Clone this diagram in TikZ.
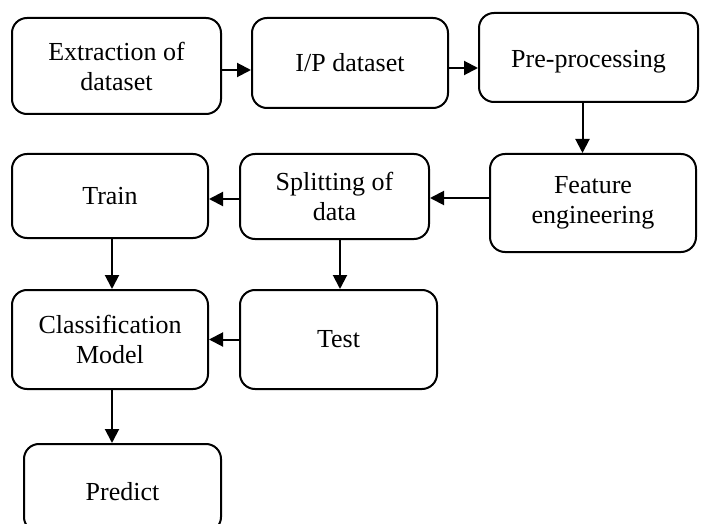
\documentclass[tikz,border=0pt]{standalone}
\usepackage{fontspec}
\setmainfont{Liberation Serif}
\usetikzlibrary{arrows.meta}
\begin{document}
\begin{tikzpicture}[x=1pt,y=1pt,
  box/.style={draw, line width=2pt, rounded corners=15pt, align=center,
    font=\fontsize{26}{30}\selectfont, inner sep=0pt},
  arr/.style={line width=2pt, -{Triangle[length=14pt,width=14pt]}}]
\useasboundingbox (0,0) rectangle (702,-524);
\node[box, minimum width=209pt, minimum height=96pt] (b1) at (116.5,-66) {Extraction of\\dataset};
\node[box, minimum width=196pt, minimum height=90pt] (b2) at (350,-63) {I/P dataset};
\node[box, minimum width=219pt, minimum height=89pt, text height=24pt, text depth=3pt] (b3) at (588.5,-57.5) {Pre-processing};
\node[box, minimum width=206pt, minimum height=98pt] (b4) at (593,-203) {Feature\\engineering};
\node[box, minimum width=189pt, minimum height=85pt] (b5) at (334.5,-196.5) {Splitting of\\data};
\node[box, minimum width=196pt, minimum height=84pt] (b6) at (110,-196) {Train};
\node[box, minimum width=196pt, minimum height=99pt] (b7) at (110,-339.5) {Classification\\Model};
\node[box, minimum width=197pt, minimum height=99pt] (b8) at (338.5,-339.5) {Test};
\node[box, minimum width=197pt, minimum height=88pt, text height=26pt, text depth=2pt] (b9) at (122.5,-488) {Predict};
\draw[arr] ([yshift=-4pt]b1.east) -- ([yshift=-4pt]b1.east -| b2.west);
\draw[arr] ([yshift=-5pt]b2.east) -- ([yshift=-5pt]b2.east -| b3.west);
\draw[arr] ([xshift=-6pt]b3.south) -- ([xshift=-6pt]b3.south |- b4.north);
\draw[arr] ([yshift=5pt]b4.west) -- ([yshift=5pt]b4.west -| b5.east);
\draw[arr] ([yshift=-2.5pt]b5.west) -- ([yshift=-2.5pt]b5.west -| b6.east);
\draw[arr] ([xshift=2pt]b6.south) -- ([xshift=2pt]b6.south |- b7.north);
\draw[arr] ([xshift=5.5pt]b5.south) -- ([xshift=5.5pt]b5.south |- b8.north);
\draw[arr] (b8.west) -- (b8.west -| b7.east);
\draw[arr] ([xshift=2pt]b7.south) -- ([xshift=2pt]b7.south |- b9.north);
\end{tikzpicture}
\end{document}
